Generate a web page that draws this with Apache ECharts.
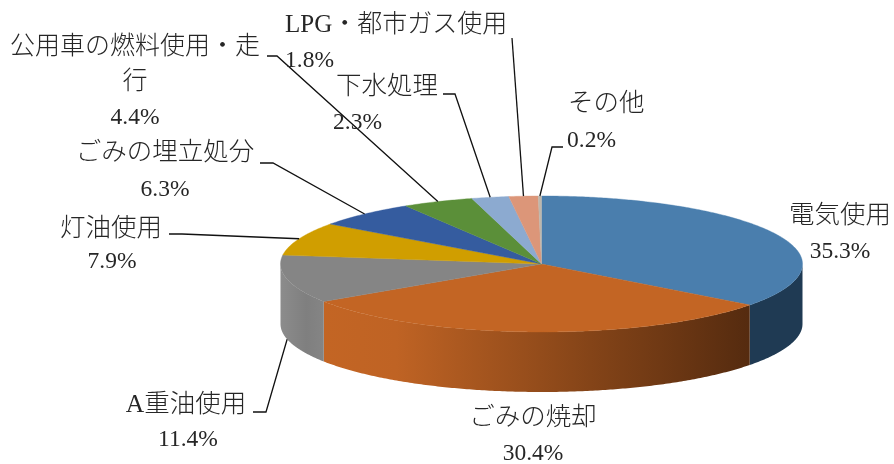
<!DOCTYPE html>
<html><head><meta charset="utf-8">
<style>html,body{margin:0;padding:0;background:#fff}#c{width:894px;height:464px}</style>
<script src="https://cdn.jsdelivr.net/npm/echarts@6/dist/echarts.min.js"></script>
</head><body><div id="c"></div>
<script>
const categories = ['電気使用','ごみの焼却','A重油使用','灯油使用','ごみの埋立処分','公用車の燃料使用・走行','下水処理','LPG・都市ガス使用','その他'];
const values = [35.3,30.4,11.4,7.9,6.3,4.4,2.3,1.8,0.2];
const topColors = ['#4A7EAD','#C36524','#858585','#D09E00','#355C9F','#5B8F39','#8CAAD0','#DC9679','#BDB7AC'];
const wallStops = [
  [[0,'#1F3A53'],[1,'#1F3A53']],
  [[0,'#C36524'],[0.17,'#BF6324'],[0.58,'#8A4719'],[1,'#552B0F']],
  [[0,'#8C8C8C'],[0.6,'#7F7F7F'],[1,'#858585']],
  null,null,null,null,null,null
];
// label layout: display lines, size, horizontal anchor, x, y of each line centre
const labelLines = [['電気使用'],['ごみの焼却'],['A重油使用'],['灯油使用'],['ごみの埋立処分'],['公用車の燃料使用・走','行'],['下水処理'],['LPG・都市ガス使用'],['その他']];
const labelSize = [25.5,25.5,25.5,25.5,25.5,25,25.5,25,25.5];
const labelAlign = ['center','center','center','center','center','center','left','left','left'];
const labelX = [840,533,186,111,165,135,336,285,568];
const valueX = [840,533,188,112,165,135,333,285,567];
const labelY = [[216,252],[418,454],[405,440],[229,262],[153,190],[47,82,118],[87,123],[25,61],[104,141]];
// leader elbow points (outer end first); empty = no leader; the last point comes from the slice
const leaderPts = [[],[],[[253,412],[266,412]],[[169,234],[182,234]],[[260,163],[273,163]],[[267,56],[277,56]],[[443,94],[455,94]],[[512,38]],[[563,147],[552,147]]];

const CX = 541.5, CY = 264, RX = 261, RY = 68, DEPTH = 60;
const total = values.reduce((a,b)=>a+b,0);
const starts = []; values.reduce((a,v,i)=>(starts[i]=a,a+v),0);
const toAng = p => p/total*2*Math.PI;
const pt = (a,dy=0) => [CX+RX*Math.sin(a), CY-RY*Math.cos(a)+dy];
function arc(a0,a1,dy){
  const n=Math.max(2,Math.ceil((a1-a0)/0.01)), out=[];
  for(let i=0;i<=n;i++) out.push(pt(a0+(a1-a0)*i/n,dy));
  return out;
}
const seriesData = values.map((v,i)=>[v,i]);
const base = {type:'custom',coordinateSystem:'none',data:seriesData,silent:true,animation:false,clip:false};

const option = {
  backgroundColor:'#fff',
  animation:false,
  series:[
    {...base,z:1,renderItem(params,api){
      const i=api.value(1), a0=toAng(starts[i]), a1=toAng(starts[i]+api.value(0));
      const lo=Math.max(a0,Math.PI/2), hi=Math.min(a1,Math.PI*1.5);
      if(hi<=lo||!wallStops[i]) return {type:'group',children:[]};
      const pts=arc(lo,hi,0).concat(arc(lo,hi,DEPTH).reverse());
      return {type:'polygon',shape:{points:pts},style:{fill:{type:'linear',x:0,y:0,x2:1,y2:0,
        colorStops:wallStops[i].map(s=>({offset:s[0],color:s[1]}))}}};
    }},
    {...base,z:2,renderItem(params,api){
      const i=api.value(1), a0=toAng(starts[i]), a1=toAng(starts[i]+api.value(0));
      const pts=[[CX,CY]].concat(arc(a0,a1,0));
      return {type:'polygon',shape:{points:pts},style:{fill:topColors[i],stroke:topColors[i],lineWidth:0.4}};
    }},
    {...base,z:3,renderItem(params,api){
      const i=api.value(1);
      if(!leaderPts[i].length) return {type:'group',children:[]};
      const mid=toAng(starts[i]+api.value(0)/2);
      const end=pt(mid,Math.cos(mid)<0?DEPTH:0);
      return {type:'polyline',shape:{points:leaderPts[i].concat([end])},style:{fill:null,stroke:'#111',lineWidth:1.3}};
    }},
    {...base,z:4,renderItem(params,api){
      const i=api.value(1), ys=labelY[i], kids=[];
      const font=(s)=>({fontFamily:'"Liberation Serif","Noto Sans CJK JP"',fontSize:s,fill:'#262626',verticalAlign:'middle',fontWeight:300});
      labelLines[i].forEach((t,k)=>kids.push({type:'text',style:{...font(labelSize[i]),text:t,x:labelX[i],y:ys[k],align:labelAlign[i]}}));
      kids.push({type:'text',style:{...font(23.5),text:api.value(0).toFixed(1)+'%',x:valueX[i],y:ys[ys.length-1],align:labelAlign[i]}});
      return {type:'group',children:kids};
    }}
  ]
};
const chart = echarts.init(document.getElementById('c'),null,{renderer:'canvas'});
chart.setOption(option);
</script></body></html>
